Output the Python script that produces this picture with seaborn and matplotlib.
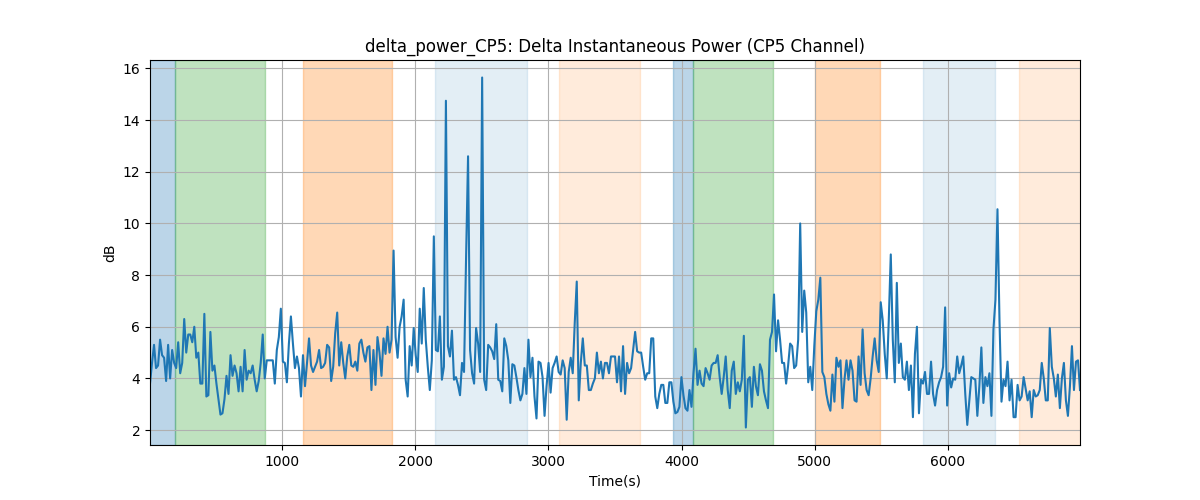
import numpy as np
import pandas as pd
import matplotlib
matplotlib.use("Agg")
import matplotlib.pyplot as plt
import seaborn as sns

power_db = [
    # ~0 - 900 s
    3.8, 4.6, 5.3, 4.4, 4.5, 5.5, 4.9, 4.8, 3.9, 5.3, 4.0, 5.1, 4.6, 4.4, 5.4, 4.2, 4.6, 6.3, 5.0, 5.7,
    5.7, 5.4, 6.0, 4.8, 5.0, 3.8, 3.8, 6.5, 3.3, 3.35, 5.8, 4.3, 4.5, 3.8, 3.2, 2.6, 2.65, 3.2, 4.1, 3.4,
    4.9, 4.1, 4.5, 4.2, 3.5, 4.45, 3.5, 5.1, 3.95, 4.3, 4.2, 4.5, 3.95, 3.5, 3.9, 4.6, 5.7, 4.0, 4.7,
    # ~900 - 1770 s
    4.7, 4.7, 4.7, 3.8, 5.1, 5.6, 6.7, 4.65, 4.6, 3.85, 5.35, 6.4, 5.35, 4.4, 4.85, 4.4, 3.3, 4.9, 3.7, 4.6,
    5.55, 4.5, 4.25, 4.45, 4.65, 5.1, 4.4, 4.45, 4.6, 5.3, 5.2, 3.9, 4.45, 5.75, 6.55, 4.5, 5.4, 4.6, 4.0, 4.85,
    5.3, 4.5, 4.45, 4.65, 4.3, 5.35, 5.5, 5.0, 4.65, 5.2, 5.25, 3.55, 5.1, 3.75, 5.6, 5.0, 4.1,
    # ~1770 - 2630 s
    5.55, 4.95, 6.0, 5.0, 5.5, 8.95, 5.6, 4.8, 6.0, 6.4, 7.05, 3.95, 3.3, 5.25, 4.5, 5.95, 4.9, 4.25, 6.7, 5.35,
    7.5, 5.5, 4.45, 3.55, 4.7, 9.5, 5.1, 5.05, 6.4, 3.95, 4.45, 14.75, 5.25, 4.85, 5.85, 3.95, 4.05, 3.75, 3.35, 4.6,
    4.25, 8.6, 12.6, 5.1, 4.2, 3.8, 5.95, 5.35, 4.25, 15.65, 3.95, 3.55, 5.3, 5.2, 5.05, 4.75, 6.1,
    # ~2630 - 3490 s
    3.95, 3.9, 3.5, 5.55, 5.25, 4.7, 3.05, 4.55, 4.5, 4.05, 3.55, 3.15, 3.4, 4.4, 3.4, 5.5, 4.05, 4.8, 3.3, 2.45,
    4.65, 4.6, 4.05, 2.55, 3.7, 4.6, 3.45, 4.4, 4.6, 4.85, 4.25, 4.15, 4.7, 4.4, 2.4, 4.25, 4.8, 4.2, 6.15, 7.75,
    3.15, 4.6, 5.55, 4.5, 4.5, 3.55, 3.55, 3.8, 4.0, 5.0, 4.2, 4.65, 4.0, 4.6, 4.6, 4.2, 4.85,
    # ~3490 - 4350 s
    4.85, 4.85, 3.85, 4.85, 3.5, 5.25, 3.4, 4.6, 4.2, 4.4, 5.1, 5.8, 5.05, 5.0, 5.0, 4.45, 3.95, 4.2, 4.2, 5.55,
    5.55, 3.3, 2.85, 3.4, 3.75, 3.75, 3.05, 3.05, 3.85, 3.85, 3.1, 2.65, 2.7, 2.9, 4.05, 3.35, 2.85, 2.75, 3.55, 2.9,
    4.2, 5.15, 3.75, 4.3, 3.8, 3.7, 4.4, 4.2, 3.95, 4.5, 4.6, 4.6, 4.9, 4.05, 3.4, 4.05, 4.85, 3.55,
    # ~4350 - 5210 s
    2.85, 4.3, 4.65, 3.4, 3.85, 3.5, 3.95, 5.65, 2.1, 3.95, 4.05, 2.9, 4.45, 3.7, 3.35, 4.55, 4.3, 3.5, 3.15, 2.85,
    5.5, 5.8, 7.25, 5.05, 6.25, 5.5, 4.6, 4.6, 3.8, 4.5, 5.35, 5.25, 4.4, 4.5, 5.5, 10.0, 5.8, 7.4, 6.55, 3.85,
    4.45, 3.55, 5.25, 6.6, 7.05, 7.9, 4.25, 4.05, 3.4, 3.0, 2.75, 4.15, 3.1, 4.8, 4.45, 4.7, 2.85,
    # ~5210 - 6080 s
    3.95, 4.7, 3.95, 4.7, 4.3, 3.15, 3.1, 4.85, 3.75, 5.9, 4.2, 3.55, 3.35, 4.0, 4.85, 5.55, 4.7, 4.25, 6.95, 6.25,
    4.95, 4.0, 6.25, 8.8, 5.5, 3.85, 7.7, 4.6, 5.35, 4.05, 3.95, 4.65, 3.55, 4.5, 2.5, 4.95, 6.0, 2.65, 3.95, 3.8,
    4.25, 3.4, 3.4, 4.65, 3.4, 2.95, 3.55, 3.85, 4.05, 4.45, 6.75, 2.95, 4.2, 3.65, 4.0, 3.95, 4.85, 4.2,
    # ~6080 - 6990 s
    4.5, 4.85, 3.4, 2.2, 3.15, 4.05, 4.0, 3.95, 2.55, 3.7, 5.2, 3.05, 4.05, 3.7, 4.2, 2.55, 5.9, 7.05, 10.55, 6.25,
    3.1, 3.95, 3.7, 4.65, 3.15, 3.95, 2.5, 2.5, 3.75, 3.15, 3.3, 4.05, 3.6, 3.15, 3.5, 2.5, 3.55, 3.3, 3.35, 3.55,
    4.6, 4.0, 3.15, 3.15, 5.95, 4.45, 4.0, 3.3, 4.15, 2.85, 4.0, 4.6, 3.15, 2.55, 3.7, 5.25, 3.55, 4.65, 4.7, 3.55,
]
t_start, t_end = 9, 6991

# Shaded intervals (start s, end s) and their colour/alpha
span_starts = [0, 197, 1158, 2149, 3080, 3936, 4086, 5002, 5813, 6533]
span_ends = [197, 872, 1826, 2840, 3688, 4086, 4687, 5490, 6353, 7000]
span_colors = ["tab:blue", "tab:green", "tab:orange", "tab:blue", "tab:orange",
               "tab:blue", "tab:green", "tab:orange", "tab:blue", "tab:orange"]
span_alphas = [0.3, 0.3, 0.3, 0.12, 0.15, 0.3, 0.3, 0.3, 0.12, 0.15]

df = pd.DataFrame({"time": np.linspace(t_start, t_end, len(power_db)), "power": power_db})

fig, ax = plt.subplots(figsize=(12, 5), dpi=100)

for s, e, c, a in zip(span_starts, span_ends, span_colors, span_alphas):
    ax.axvspan(s, e, color=c, alpha=a, lw=1)

sns.lineplot(data=df, x="time", y="power", ax=ax, color="tab:blue", linewidth=1.5)

ax.set_xlim(t_start, t_end)
ax.grid(True)
ax.set_title("delta_power_CP5: Delta Instantaneous Power (CP5 Channel)")
ax.set_xlabel("Time(s)")
ax.set_ylabel("dB")

fig.savefig("out.png", dpi=100)
